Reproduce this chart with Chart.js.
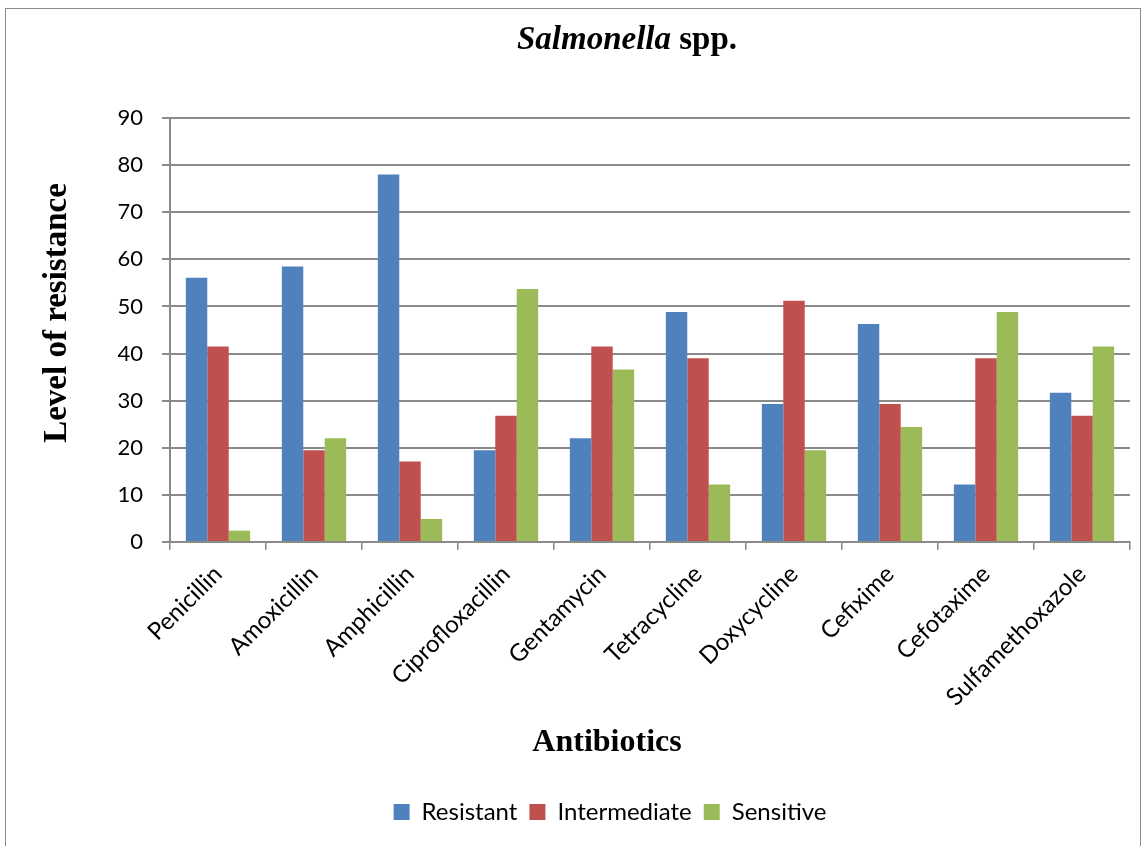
<!DOCTYPE html>
<html lang="en">
<head>
    <meta charset="UTF-8">
    <title>Salmonella spp.</title>
    <style>
        body {
            margin: 0;
            background-color: #ffffff;
            overflow: hidden;
        }
        canvas {
            display: block;
        }
    </style>
</head>
<body>
    <canvas id="resChart" width="1147" height="846"></canvas>

    <script src="https://cdn.jsdelivr.net/npm/chart.js"></script>
    <script>
        // data (% of isolates)
        const antibiotics = ['Penicillin', 'Amoxicillin', 'Amphicillin', 'Ciprofloxacillin', 'Gentamycin',
            'Tetracycline', 'Doxycycline', 'Cefixime', 'Cefotaxime', 'Sulfamethoxazole'];
        const resistant = [56.1, 58.5, 78.0, 19.5, 22.0, 48.8, 29.3, 46.3, 12.2, 31.7];
        const intermediate = [41.5, 19.5, 17.1, 26.8, 41.5, 39.0, 51.2, 29.3, 39.0, 26.8];
        const sensitive = [2.4, 22.0, 4.9, 53.7, 36.6, 12.2, 19.5, 24.4, 48.8, 41.5];
        const yTicks = [0, 10, 20, 30, 40, 50, 60, 70, 80, 90];

        const gridColor = '#8a8a8a';
        const labelFont = 'Lato';
        const serif = '"Liberation Serif", "Times New Roman", serif';

        // frame, mixed italic title and the two axis titles (they sit off-centre in the original)
        const decorPlugin = {
            id: 'decor',
            beforeDraw(chart) {
                const ctx = chart.ctx;
                ctx.save();
                ctx.strokeStyle = '#8c8c8c';
                ctx.lineWidth = 1;
                ctx.strokeRect(5.5, 8.5, 1135, 860);
                ctx.restore();
            },
            afterDraw(chart) {
                const ctx = chart.ctx;
                ctx.save();
                ctx.fillStyle = '#000';
                ctx.textBaseline = 'middle';
                const italic = 'italic bold 33px ' + serif;
                const bold = 'bold 33px ' + serif;
                ctx.font = italic;
                const w1 = ctx.measureText('Salmonella').width;
                ctx.font = bold;
                const w2 = ctx.measureText(' spp.').width;
                let x = 627 - (w1 + w2) / 2;
                ctx.font = italic;
                ctx.fillText('Salmonella', x, 40);
                ctx.font = bold;
                ctx.fillText(' spp.', x + w1, 40);

                ctx.textAlign = 'center';
                ctx.font = 'bold 32px ' + serif;
                ctx.fillText('Antibiotics', 607, 743);

                ctx.translate(57, 313);
                ctx.rotate(-Math.PI / 2);
                ctx.font = 'bold 33px ' + serif;
                ctx.fillText('Level of resistance', 0, 0);
                ctx.restore();
            },
            afterLayout(chart) {
                // nudge legend to the right like the original
                chart.legend.left += 45;
                chart.legend.right += 45;
            }
        };

        var ctx = document.getElementById('resChart').getContext('2d');
        var resChart = new Chart(ctx, {
            type: 'bar',
            data: {
                labels: antibiotics,
                datasets: [{
                    label: 'Resistant',
                    data: resistant,
                    backgroundColor: '#4F81BD'
                }, {
                    label: 'Intermediate',
                    data: intermediate,
                    backgroundColor: '#C0504D'
                }, {
                    label: 'Sensitive',
                    data: sensitive,
                    backgroundColor: '#9BBB59'
                }]
            },
            plugins: [decorPlugin],
            options: {
                responsive: false,
                animation: false,
                devicePixelRatio: 1,
                datasets: {
                    bar: {
                        categoryPercentage: 0.67,
                        barPercentage: 1.0
                    }
                },
                layout: {
                    padding: { left: 0, right: 17, top: 118, bottom: 12 }
                },
                plugins: {
                    legend: {
                        position: 'bottom',
                        labels: {
                            font: { family: labelFont, size: 24 },
                            color: '#000',
                            boxWidth: 16,
                            boxHeight: 16,
                            padding: 12
                        }
                    },
                    tooltip: { enabled: false }
                },
                scales: {
                    x: {
                        afterFit(scale) { scale.height = 246; },
                        grid: {
                            offset: true,
                            drawOnChartArea: false,
                            drawTicks: true,
                            tickLength: 8,
                            color: gridColor,
                            lineWidth: 1.5
                        },
                        border: { color: gridColor, width: 2 },
                        ticks: {
                            minRotation: 45,
                            maxRotation: 45,
                            font: { family: labelFont, size: 24 },
                            color: '#000',
                            padding: 10
                        }
                    },
                    y: {
                        min: 0,
                        max: 90,
                        afterFit(scale) { scale.width = 170; },
                        afterBuildTicks(scale) {
                            scale.ticks = yTicks.map(v => ({ value: v }));
                        },
                        grid: {
                            color: gridColor,
                            lineWidth: 2,
                            tickLength: 8
                        },
                        border: { color: gridColor, width: 2 },
                        ticks: {
                            font: { family: labelFont, size: 22 },
                            color: '#000',
                            padding: 19
                        }
                    }
                }
            }
        });
    </script>
</body>
</html>
